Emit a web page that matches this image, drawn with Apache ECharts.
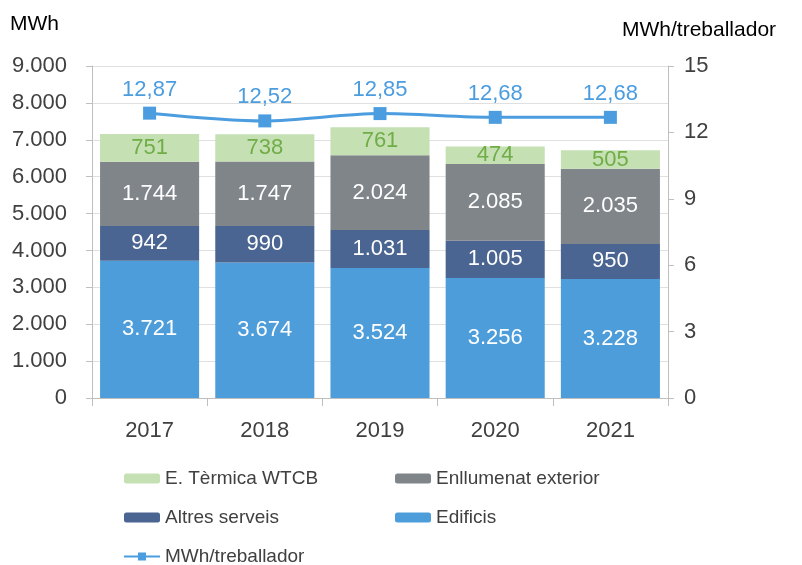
<!DOCTYPE html>
<html>
<head>
<meta charset="utf-8">
<script src="https://cdn.jsdelivr.net/npm/echarts@6/dist/echarts.min.js"></script>
<style>
  html, body { margin: 0; padding: 0; background: #fff; }
  #chart { width: 802px; height: 565px; }
</style>
</head>
<body>
<div id="chart"></div>
<script>
const years = ['2017', '2018', '2019', '2020', '2021']
const edificis = [3721, 3674, 3524, 3256, 3228]
const altres = [942, 990, 1031, 1005, 950]
const enllumenat = [1744, 1747, 2024, 2085, 2035]
const termica = [751, 738, 761, 474, 505]
const perWorker = [12.87, 12.52, 12.85, 12.68, 12.68]
const leftTicks = [0, 1000, 2000, 3000, 4000, 5000, 6000, 7000, 8000, 9000]
const rightTicks = [0, 3, 6, 9, 12, 15]

const FONT = '"Liberation Sans", "Open Sans", sans-serif'
const fmtThousands = v => String(v).replace(/\B(?=(\d{3})+(?!\d))/g, '.')

const chart = echarts.init(document.getElementById('chart'))

function barSeries(name, data, color, labelColor) {
  return {
    name: name,
    type: 'bar',
    stack: 'total',
    barWidth: '86%',
    data: data,
    itemStyle: { color: color },
    label: {
      show: true,
      position: 'inside',
      color: labelColor,
      fontSize: 22,
      fontFamily: FONT,
      formatter: p => fmtThousands(p.value)
    }
  }
}

function legendBox(left, names) {
  return {
    orient: 'vertical',
    left: left,
    top: 469,
    padding: 0,
    height: 110,
    itemWidth: 36,
    itemHeight: 10,
    itemGap: 20,
    textStyle: { fontSize: 19, color: '#404040', fontFamily: FONT },
    data: names
  }
}

chart.setOption({
  animation: false,
  textStyle: { fontFamily: FONT },
  grid: { left: 92, right: 134, top: 66, bottom: 167 },
  legend: [
    legendBox(123, ['E. Tèrmica WTCB', 'Altres serveis', 'MWh/treballador']),
    legendBox(395, ['Enllumenat exterior', 'Edificis'])
  ],
  graphic: [
    { type: 'text', left: 10, top: 14, style: { text: 'MWh', fontSize: 21, fill: '#000', fontFamily: FONT } },
    { type: 'text', left: 622, top: 20, style: { text: 'MWh/treballador', fontSize: 21, fill: '#000', fontFamily: FONT } }
  ],
  xAxis: {
    type: 'category',
    data: years,
    axisLine: { lineStyle: { color: '#bfbfbf' } },
    axisTick: { show: true, length: 8, lineStyle: { color: '#bfbfbf' } },
    axisLabel: { fontSize: 22, color: '#404040', margin: 22 }
  },
  yAxis: [
    {
      type: 'value',
      min: leftTicks[0],
      max: leftTicks[leftTicks.length - 1],
      interval: 1000,
      axisLine: { show: true, lineStyle: { color: '#bfbfbf' } },
      axisTick: { show: true, length: 6, lineStyle: { color: '#bfbfbf' } },
      axisLabel: { fontSize: 22, color: '#404040', margin: 25, formatter: v => fmtThousands(v) },
      splitLine: { lineStyle: { color: '#e0e0e0' } }
    },
    {
      type: 'value',
      min: rightTicks[0],
      max: rightTicks[rightTicks.length - 1],
      interval: 3,
      position: 'right',
      axisLine: { show: true, lineStyle: { color: '#bfbfbf' } },
      axisTick: { show: true, length: 6, lineStyle: { color: '#bfbfbf' } },
      axisLabel: { fontSize: 22, color: '#404040', margin: 16 },
      splitLine: { show: false }
    }
  ],
  series: [
    barSeries('Edificis', edificis, '#4e9ddb', '#ffffff'),
    barSeries('Altres serveis', altres, '#4a6591', '#ffffff'),
    barSeries('Enllumenat exterior', enllumenat, '#80858a', '#ffffff'),
    barSeries('E. Tèrmica WTCB', termica, '#c5e0b3', '#70ad47'),
    {
      name: 'MWh/treballador',
      type: 'line',
      yAxisIndex: 1,
      data: perWorker,
      smooth: 0.3,
      symbol: 'rect',
      symbolSize: 13,
      lineStyle: { color: '#4b9ddf', width: 3 },
      itemStyle: { color: '#4b9ddf' },
      label: {
        show: true,
        position: 'top',
        distance: 6,
        color: '#4b9ddf',
        fontSize: 22,
        formatter: p => p.value.toFixed(2).replace('.', ',')
      }
    }
  ]
})
</script>
</body>
</html>
